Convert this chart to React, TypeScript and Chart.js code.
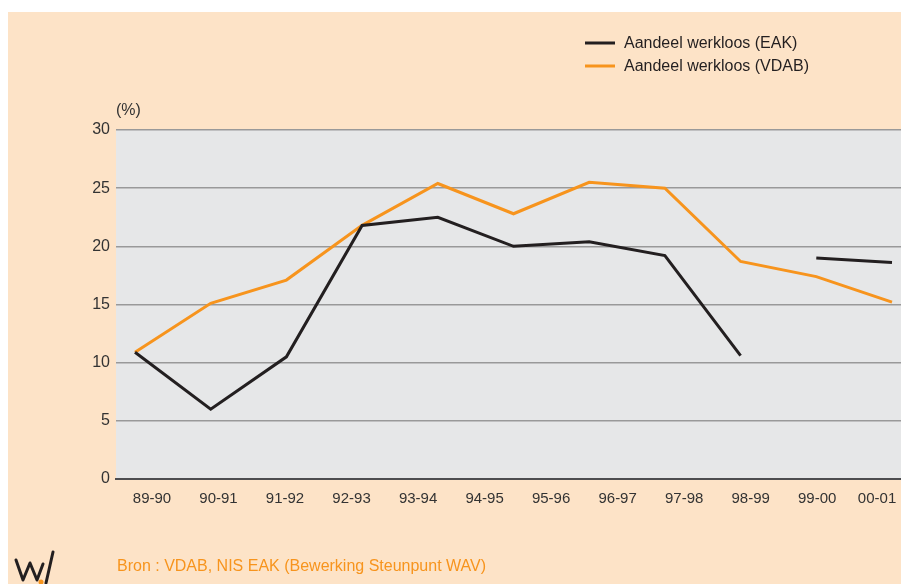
import React, { useEffect, useRef } from "react";
import { Chart, registerables } from "chart.js";

Chart.register(...registerables);

const periodLabels = ["89-90", "90-91", "91-92", "92-93", "93-94", "94-95", "95-96", "96-97", "97-98", "98-99", "99-00", "00-01"];
const pointIndex = [0, 1, 2, 3, 4, 5, 6, 7, 8, 9, 10];
const eakValues: (number | null)[] = [10.9, 6.0, 10.5, 21.8, 22.5, 20.0, 20.4, 19.2, 10.6, null, 19.0, 18.6];
const eakPositions = [0, 1, 2, 3, 4, 5, 6, 7, 8, 8.5, 9, 10];
const vdabValues = [10.9, 15.1, 17.1, 21.8, 25.4, 22.8, 25.5, 25.0, 18.7, 17.4, 15.2];
const yTicks = [0, 5, 10, 15, 20, 25, 30];
const seriesNames = ["Aandeel werkloos (EAK)", "Aandeel werkloos (VDAB)"];
const sourceText = "Bron : VDAB, NIS EAK (Bewerking Steunpunt WAV)";

const FONT = "'Liberation Sans', Arial, sans-serif";
const PEACH = "#fde3c7";
const PLOT = "#e6e7e8";
const BLACK = "#231f20";
const ORANGE = "#f7941d";
const W = 893;
const H = 572;

export default function App() {
  const ref = useRef<HTMLCanvasElement>(null);
  useEffect(() => {
    document.documentElement.style.overflow = "hidden";
    document.body.style.overflow = "hidden";
    const canvas = ref.current!;
    const decor = {
      id: "decor",
      beforeDraw(chart: any) {
        const { ctx, chartArea, width, height } = chart;
        ctx.save();
        ctx.fillStyle = PEACH;
        ctx.fillRect(0, 0, width, height);
        ctx.fillStyle = PLOT;
        ctx.fillRect(chartArea.left, chartArea.top, chartArea.right - chartArea.left, chartArea.bottom - chartArea.top);
        ctx.restore();
      },
      afterDraw(chart: any) {
        const { ctx, chartArea } = chart;
        ctx.save();
        ctx.font = `16px ${FONT}`;
        ctx.fillStyle = "#333333";
        ctx.textBaseline = "middle";
        ctx.textAlign = "left";
        ctx.fillText("(%)", chartArea.left, 99);
        const items = [
          { name: seriesNames[0], color: BLACK, y: 31 },
          { name: seriesNames[1], color: ORANGE, y: 54 },
        ];
        items.forEach((it) => {
          ctx.strokeStyle = it.color;
          ctx.lineWidth = 3;
          ctx.beginPath();
          ctx.moveTo(577, it.y);
          ctx.lineTo(607, it.y);
          ctx.stroke();
          ctx.fillStyle = BLACK;
          ctx.font = `16px ${FONT}`;
          ctx.fillText(it.name, 616, it.y + 1);
        });
        ctx.fillStyle = ORANGE;
        ctx.font = `16px ${FONT}`;
        ctx.fillText(sourceText, 109, 555);
        ctx.strokeStyle = BLACK;
        ctx.lineWidth = 3;
        ctx.lineJoin = "round";
        ctx.lineCap = "round";
        ctx.beginPath();
        ctx.moveTo(8, 548);
        ctx.lineTo(15, 568);
        ctx.lineTo(22, 551);
        ctx.lineTo(29, 568);
        ctx.lineTo(35, 552);
        ctx.stroke();
        ctx.beginPath();
        ctx.moveTo(38, 571);
        ctx.lineTo(45, 540);
        ctx.stroke();
        ctx.fillStyle = ORANGE;
        ctx.beginPath();
        ctx.arc(33, 570, 2.5, 0, Math.PI * 2);
        ctx.fill();
        ctx.restore();
      },
    };
    const chart = new Chart(canvas, {
      type: "line",
      data: {
        datasets: [
          {
            label: seriesNames[0],
            data: eakValues.map((v, i) => ({ x: eakPositions[i], y: v })),
            borderColor: BLACK,
            borderWidth: 3,
            pointRadius: 0,
            spanGaps: false,
            tension: 0,
            xAxisID: "x",
          },
          {
            label: seriesNames[1],
            data: vdabValues.map((v, i) => ({ x: pointIndex[i], y: v })),
            borderColor: ORANGE,
            borderWidth: 3,
            pointRadius: 0,
            tension: 0,
            xAxisID: "x",
          },
        ],
      },
      options: {
        animation: false,
        responsive: false,
        devicePixelRatio: 1,
        events: [],
        layout: { padding: { top: 118, left: 0, right: 0, bottom: 0 } },
        plugins: { legend: { display: false }, tooltip: { enabled: false } },
        scales: {
          x: {
            type: "linear",
            display: false,
            min: -0.251,
            max: 10.119,
          },
          xl: {
            type: "linear",
            position: "bottom",
            min: -0.541,
            max: 11.26,
            afterBuildTicks: (s: any) => {
              // last label pulled inward so it stays inside the frame, as in the source
              s.ticks = periodLabels.map((_, i) => ({ value: i === periodLabels.length - 1 ? i - 0.1 : i }));
            },
            afterFit: (s: any) => {
              s.height = 105;
              s.paddingLeft = 0;
              s.paddingRight = 0;
            },
            grid: { display: false, drawTicks: false },
            border: { display: true, color: "#4d4d4f", width: 2 },
            ticks: {
              autoSkip: false,
              maxRotation: 0,
              padding: 11,
              color: "#333333",
              font: { family: FONT, size: 15 },
              callback: (v: any) => periodLabels[Math.round(Number(v))] ?? "",
            },
          },
          y: {
            min: 0,
            max: 30,
            afterBuildTicks: (s: any) => {
              s.ticks = yTicks.map((v) => ({ value: v }));
            },
            afterFit: (s: any) => {
              s.width = 108;
              s.paddingTop = 0;
              s.paddingBottom = 0;
            },
            border: { display: false },
            grid: { color: "#999999", lineWidth: 1.5, drawTicks: false },
            ticks: {
              padding: 6,
              color: "#333333",
              font: { family: FONT, size: 16 },
            },
          },
        },
      },
      plugins: [decor],
    } as any);
    return () => chart.destroy();
  }, []);
  return (
    <div style={{ position: "absolute", left: 8, top: 12, width: W, height: H }}>
      <canvas ref={ref} width={W} height={H} style={{ display: "block", width: W, height: H }} />
    </div>
  );
}
